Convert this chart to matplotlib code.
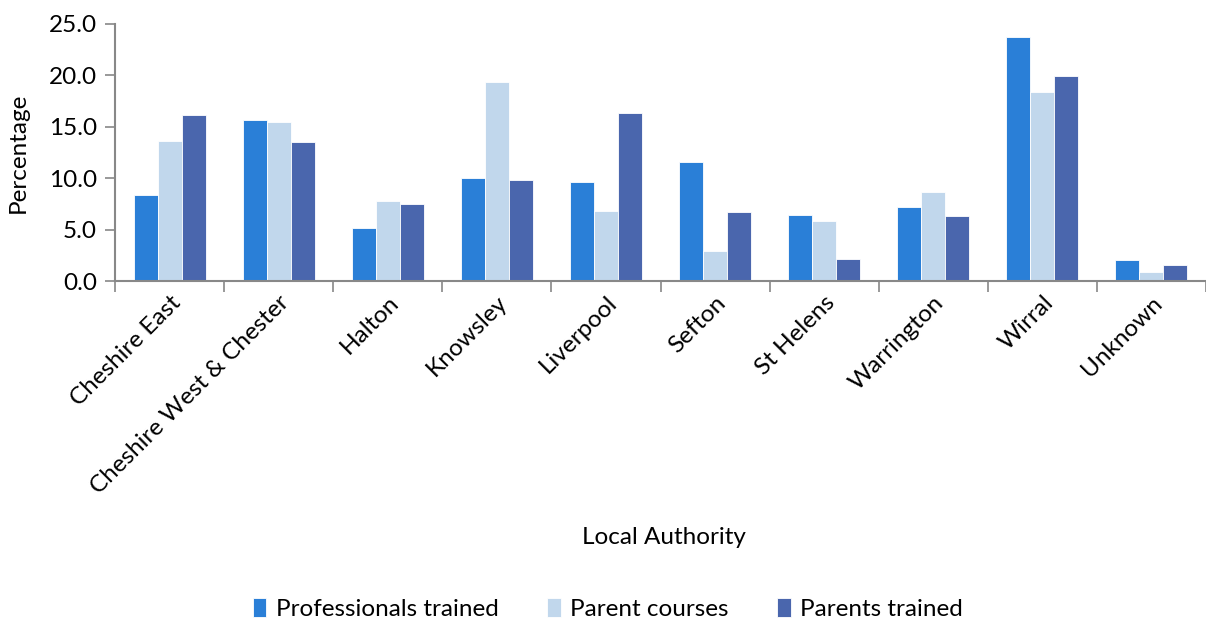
import numpy as np
import matplotlib.pyplot as plt

# Share of activity by local authority
authorities = ["Cheshire East", "Cheshire West & Chester", "Halton", "Knowsley",
               "Liverpool", "Sefton", "St Helens", "Warrington", "Wirral", "Unknown"]
professionals_trained = [8.4, 15.7, 5.2, 10.0, 9.6, 11.6, 6.4, 7.2, 23.7, 2.0]
parent_courses = [13.6, 15.5, 7.8, 19.4, 6.8, 2.9, 5.8, 8.7, 18.4, 0.9]
parents_trained = [16.1, 13.5, 7.5, 9.8, 16.3, 6.7, 2.1, 6.3, 19.9, 1.6]

plt.rcParams['font.family'] = ['Lato', 'DejaVu Sans']
fs = 17.5

fig = plt.figure(figsize=(12.06, 6.21), dpi=100)
ax = fig.add_axes([115 / 1206, 1 - 281 / 621, 1 - 115 / 1206, 257 / 621])

x = np.arange(len(authorities))
w = 0.22
series = [
    (professionals_trained, "#2A7FD7", "Professionals trained"),
    (parent_courses, "#C1D7EC", "Parent courses"),
    (parents_trained, "#4A66AD", "Parents trained"),
]
for i, (vals, col, lab) in enumerate(series):
    ax.bar(x + (i - 1) * w, vals, width=w, color=col, label=lab,
           edgecolor="white", linewidth=0.6, zorder=2)

ax.set_xlim(-0.5, len(authorities) - 0.5)
ax.set_ylim(0, 25)
ax.set_yticks(np.arange(0, 25.1, 5))
ax.set_yticklabels([f"{v:.1f}" for v in np.arange(0, 25.1, 5)], fontsize=fs)

# ticks sit between the category groups
ax.set_xticks(np.arange(-0.5, len(authorities), 1.0))
ax.set_xticklabels([])
ax.set_xticks(x, minor=True)
ax.set_xticklabels(authorities, minor=True, rotation=45, ha="right",
                   rotation_mode="anchor", fontsize=fs)
ax.tick_params(axis="x", which="minor", length=0, pad=8)
ax.tick_params(axis="x", which="major", length=8, color="#888888", width=1.2)
ax.tick_params(axis="y", length=7, color="#888888", width=1.2, pad=6)

for s in ["top", "right"]:
    ax.spines[s].set_visible(False)
for s in ["left", "bottom"]:
    ax.spines[s].set_color("#888888")
    ax.spines[s].set_linewidth(1.5)

fig.text(18 / 1206, 1 - 153 / 621, "Percentage", rotation=90, fontsize=fs,
         ha="center", va="center")
fig.text(664 / 1206, 1 - 538 / 621, "Local Authority", fontsize=fs,
         ha="center", va="center")

fig.legend(loc="center", bbox_to_anchor=(608 / 1206, 1 - 609 / 621), ncol=3,
           frameon=False, fontsize=fs, handlelength=0.55, handleheight=0.8,
           handletextpad=0.4, columnspacing=2.0)

fig.savefig("out.png", dpi=100)
